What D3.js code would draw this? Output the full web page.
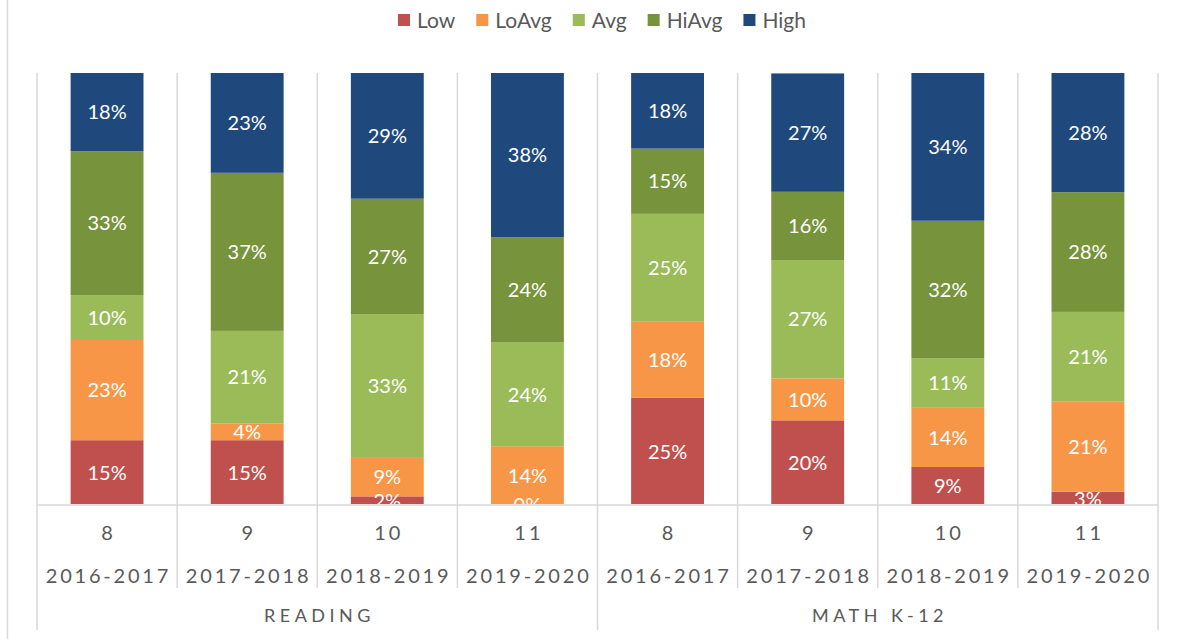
<!DOCTYPE html>
<html>
<head>
<meta charset="utf-8">
<script src="https://cdn.jsdelivr.net/npm/d3@7"></script>
<style>
    body { margin: 0; background: #fff; }
    text { font-family: Lato, "Open Sans", sans-serif; }
</style>
</head>
<body>
<div id="main"></div>
<script>
// data (percent of students per band)
const subjects = ["READING", "MATH K-12"];
const grades = ["8", "9", "10", "11", "8", "9", "10", "11"];
const years = ["2016-2017", "2017-2018", "2018-2019", "2019-2020",
               "2016-2017", "2017-2018", "2018-2019", "2019-2020"];
const bands = ["Low", "LoAvg", "Avg", "HiAvg", "High"];

const low   = [15.0, 15.0,  2.0,  0.0, 24.8, 19.6,  8.8,  3.1];
const loAvg = [23.2,  3.9,  8.9, 13.6, 17.6,  9.7, 13.7, 20.8];
const avg   = [10.4, 21.4, 33.3, 24.0, 25.0, 27.4, 11.4, 20.8];
const hiAvg = [33.3, 36.6, 26.7, 24.4, 15.1, 15.8, 31.9, 27.7];
const high  = [18.1, 23.2, 29.2, 38.0, 17.6, 27.4, 34.2, 27.6];

const ctx = {
    svg_w: 1177,
    svg_h: 639,
    left: 37,
    right: 1158,
    top: 73,
    base: 505,
    bar_frac: 0.52,
    grid: "#d9d9d9",
    txt: "#595959",
    colors: ["#c0504d", "#f79646", "#9bbb59", "#77933c", "#1f497d"],
};

function createViz() {
    let svg = d3.select("#main").append("svg")
        .attr("width", ctx.svg_w)
        .attr("height", ctx.svg_h);

    // outer frame line on the left
    svg.append("line")
        .attr("x1", 7.5).attr("x2", 7.5)
        .attr("y1", 0).attr("y2", ctx.svg_h)
        .style("stroke", ctx.grid).style("stroke-width", 1.5);

    let rows = grades.map((g, i) => ({
        idx: i, Low: low[i], LoAvg: loAvg[i], Avg: avg[i], HiAvg: hiAvg[i], High: high[i]
    }));

    let x = d3.scaleBand()
        .domain(d3.range(grades.length))
        .range([ctx.left, ctx.right])
        .padding(0);
    let y = d3.scaleLinear()
        .domain([0, 100])
        .range([ctx.base, ctx.top]);
    let color = d3.scaleOrdinal().domain(bands).range(ctx.colors);

    let stack = d3.stack().keys(bands)(rows);
    let bw = x.bandwidth() * ctx.bar_frac;
    let bx = i => x(i) + (x.bandwidth() - bw) / 2;

    svg.append("clipPath").attr("id", "plotclip")
        .append("rect")
        .attr("x", ctx.left).attr("y", ctx.top)
        .attr("width", ctx.right - ctx.left)
        .attr("height", ctx.base - ctx.top - 1);

    // category separators (behind bars)
    let grid = svg.append("g").attr("id", "grid");
    d3.range(grades.length + 1).forEach(i => {
        let xx = i < grades.length ? x(i) : ctx.right;
        let group = (i % 4 == 0);
        grid.append("line")
            .attr("x1", xx).attr("x2", xx)
            .attr("y1", ctx.top)
            .attr("y2", group ? 630 : 588)
            .style("stroke", ctx.grid).style("stroke-width", 1.5);
    });

    let bars = svg.append("g").attr("id", "bars").attr("clip-path", "url(#plotclip)");
    bars.selectAll("g")
        .data(stack)
        .enter().append("g")
        .attr("fill", d => color(d.key))
        .selectAll("rect")
        .data(d => d)
        .enter().append("rect")
        .attr("x", d => bx(d.data.idx))
        .attr("width", bw)
        .attr("y", d => y(d[1]))
        .attr("height", d => y(d[0]) - y(d[1]));

    // data labels
    let fmt = d3.format(".0%");
    let labels = svg.append("g").attr("id", "labels").attr("clip-path", "url(#plotclip)");
    stack.forEach(s => {
        labels.selectAll(null)
            .data(s)
            .enter().append("text")
            .attr("x", d => bx(d.data.idx) + bw / 2)
            .attr("y", d => (y(d[0]) + y(d[1])) / 2)
            .attr("dy", "0.36em")
            .attr("text-anchor", "middle")
            .style("fill", "#fff")
            .style("font-size", "20px")
            .text(d => fmt((d[1] - d[0]) / 100));
    });

    // baseline
    svg.append("line")
        .attr("x1", ctx.left).attr("x2", ctx.right)
        .attr("y1", ctx.base).attr("y2", ctx.base)
        .style("stroke", ctx.grid).style("stroke-width", 1.5);

    createAxis(svg, x);
    createLegend(svg, color);
}

function spaced(sel, txt, cx, cy, size, ls) {
    sel.append("text")
        .attr("x", cx + ls / 2)
        .attr("y", cy)
        .attr("dy", "0.36em")
        .attr("text-anchor", "middle")
        .style("font-size", size + "px")
        .style("letter-spacing", ls + "px")
        .style("fill", ctx.txt)
        .text(txt);
}

function createAxis(svg, x) {
    let g = svg.append("g").attr("id", "axis");
    grades.forEach((gr, i) => {
        let cx = x(i) + x.bandwidth() / 2;
        spaced(g, gr, cx, 533, 20, 3);
        spaced(g, years[i], cx, 576, 20, 2.8);
    });
    subjects.forEach((s, k) => {
        let cx = x(k * 4) + x.bandwidth() * 2;
        spaced(g, s, cx, 616, 18, 4.5);
    });
}

function createLegend(svg, color) {
    let lg = svg.append("g").attr("id", "legend");
    let pos = 0;
    bands.forEach(b => {
        let item = lg.append("g").attr("transform", `translate(${pos},0)`);
        item.append("rect")
            .attr("x", 0).attr("y", 14)
            .attr("width", 12).attr("height", 12)
            .attr("fill", color(b));
        let t = item.append("text")
            .attr("x", 19).attr("y", 20)
            .attr("dy", "0.36em")
            .style("font-size", "21px")
            .style("fill", ctx.txt)
            .text(b);
        pos += 19 + t.node().getComputedTextLength() + 21;
    });
    let w = pos - 21;
    lg.attr("transform", `translate(${602 - w / 2},0)`);
}

createViz();
</script>
</body>
</html>
